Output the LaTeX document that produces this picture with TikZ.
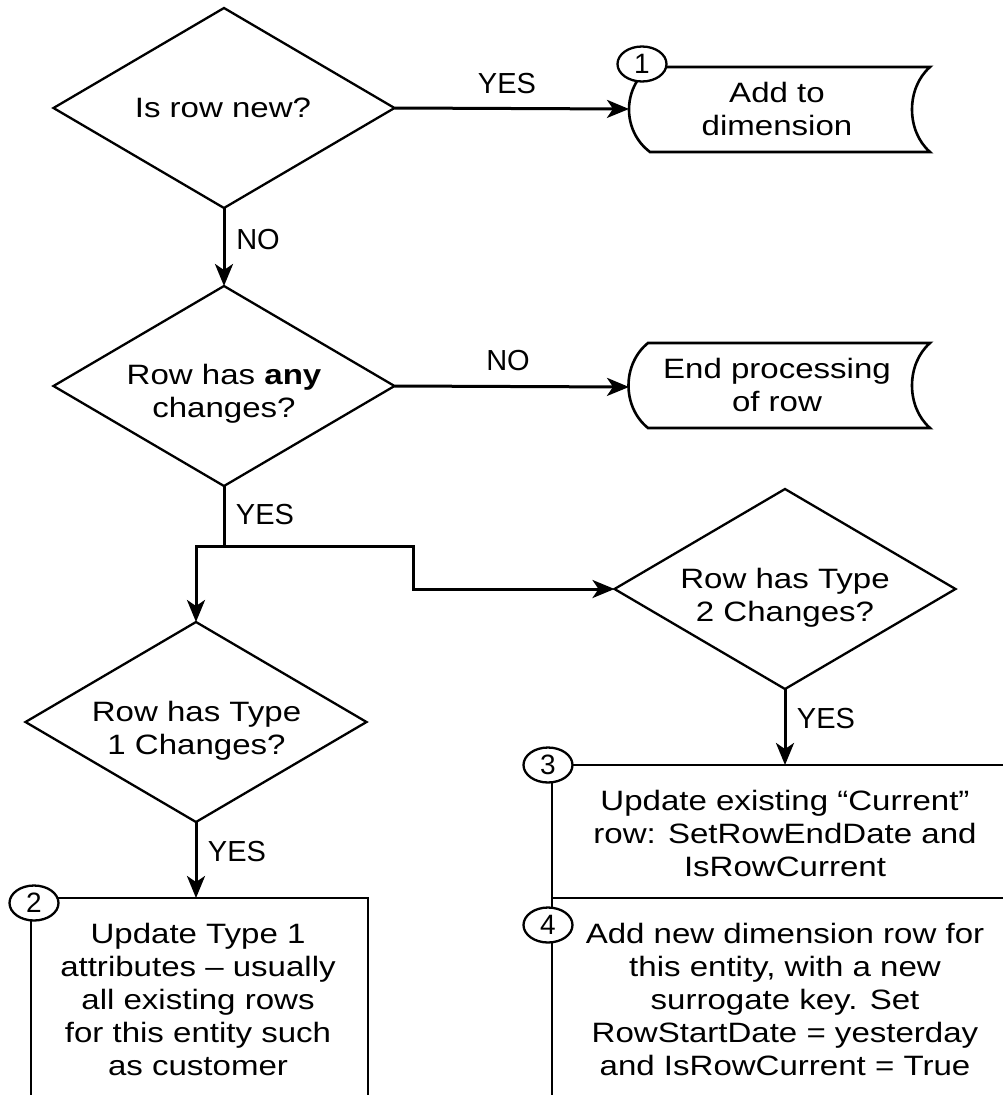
\documentclass[tikz,border=0pt]{standalone}
\usepackage{fontspec}
\setmainfont{Liberation Sans}
\newfontfamily\wfont{Liberation Sans}[FakeStretch=1.18]
\usetikzlibrary{arrows.meta,shapes.geometric}
\begin{document}
\begin{tikzpicture}[x=1pt,y=-1pt,
  dec/.style={draw, shape=diamond, minimum width=341pt, minimum height=200pt, inner sep=0pt, outer sep=0pt, line width=2.3pt},
  txt/.style={font=\wfont\fontsize{28}{33}\selectfont, align=center, inner sep=0pt},
  lbl/.style={font=\fontsize{29}{33}\selectfont, inner sep=0pt},
  arr/.style={line width=3pt, -{Stealth[length=22pt,width=18pt,inset=6pt]}},
  ln/.style={line width=3pt},
  boxln/.style={line width=2.6pt},
  num/.style={draw, ellipse, fill=white, line width=2.3pt, minimum width=49pt, minimum height=35pt, inner sep=0pt, font=\fontsize{28}{28}\selectfont}
]
\useasboundingbox (0,0) rectangle (1003,1095);

% decisions
\node[dec] (d1) at (224,108) {};
\node[dec] (d2) at (224,386) {};
\node[dec] (d3) at (785,589) {};
\node[dec] (d4) at (196,722) {};

\node[txt] (t1) at (223,108) {Is row new?};
\node[txt] (t2) at (224,394) {Row has \textbf{any}\\changes?};
\node[txt] (t3) at (785,597.5) {Row has Type\\2 Changes?};
\node[txt] (t4) at (196.5,731) {Row has Type\\1 Changes?};

% storage shapes
\draw[boxln] (650,67) -- (930,67) .. controls (906,88) and (906,131) .. (930,152)
  -- (650,152) .. controls (622,131) and (622,88) .. (650,67) -- cycle;
\draw[boxln] (648,343) -- (930,343) .. controls (906,364) and (906,407) .. (930,428)
  -- (648,428) .. controls (622,407) and (622,364) .. (648,343) -- cycle;
\coordinate (in1) at (629,109);
\coordinate (in2) at (629,387);
\node[txt] (s1) at (777,108.5) {Add to\\dimension};
\node[txt] (s2) at (777,385) {End processing\\of row};

% process boxes (open)
\draw[boxln] (31,1095) -- (31,898) -- (368,898) -- (368,1095);
\draw[boxln] (1003,765) -- (552,765) -- (552,1095);
\draw[boxln] (552,898) -- (1003,898);
\coordinate (b2top) at (196,898);
\coordinate (b3top) at (785,765);
\node[txt] (b2) at (198,999) {Update Type 1\\attributes – usually\\all existing rows\\for this entity such\\as customer};
\node[txt] (b3) at (785,833) {Update existing “Current”\\row: SetRowEndDate and\\IsRowCurrent};
\node[txt] (b4) at (785,999) {Add new dimension row for\\this entity, with a new\\surrogate key. Set\\RowStartDate = yesterday\\and IsRowCurrent = True};

% numbers
\node[num] (n1) at (642,64) {1};
\node[num] (n2) at (34,903) {2};
\node[num] (n3) at (548,765) {3};
\node[num] (n4) at (548,925) {4};

% connectors
\draw[arr] (d1.east) -- (in1);
\draw[arr] (d1.south) -- (d2.north);
\draw[arr] (d2.east) -- (in2);
\coordinate (j) at (224,546);
\coordinate (k) at (413,546);
\draw[ln] (d2.south) -- (j);
\draw[arr] (j) -| (d4.north);
\draw[arr] (j) -- (k) |- (d3.west);
\draw[arr] (d4.south) -- (b2top);
\draw[arr] (d3.south) -- (b3top);

% labels
\node[lbl] (l1) at (507,84) {YES};
\node[lbl] (l2) at (258,240) {NO};
\node[lbl] (l3) at (508,361) {NO};
\node[lbl] (l4) at (265,515) {YES};
\node[lbl] (l5) at (826,719) {YES};
\node[lbl] (l6) at (237,852) {YES};
\end{tikzpicture}
\end{document}
